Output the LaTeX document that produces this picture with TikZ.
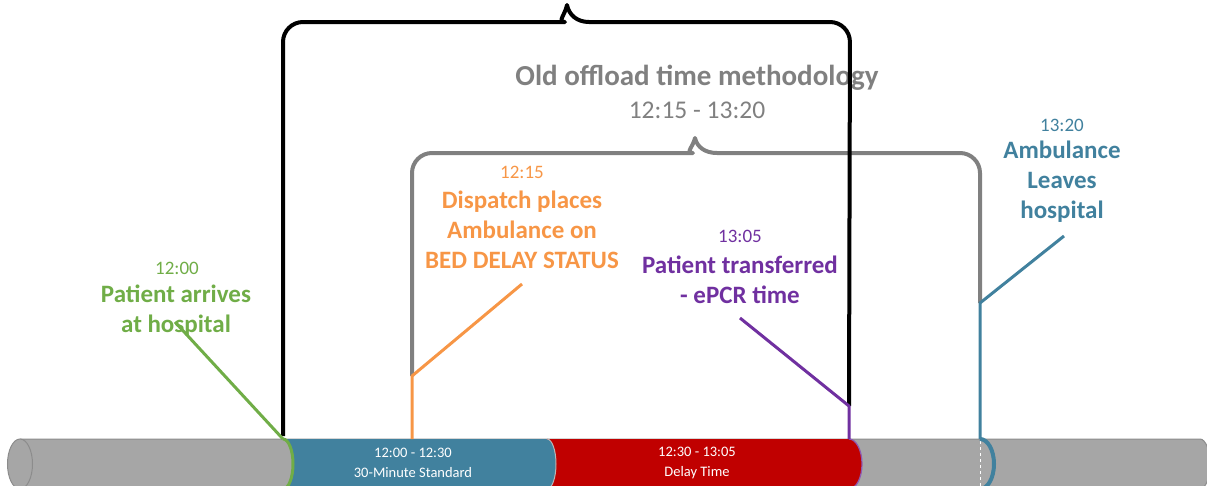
\documentclass[tikz,border=0pt]{standalone}
\usepackage{fontspec}
\setmainfont{Carlito}
\definecolor{cgreen}{HTML}{70AD47}
\definecolor{corange}{HTML}{F79646}
\definecolor{cpurple}{HTML}{7030A0}
\definecolor{cblue}{HTML}{41819E}
\definecolor{cred}{HTML}{C00000}
\definecolor{cbar}{HTML}{A6A6A6}
\definecolor{cbaredge}{HTML}{8C8C8C}
\definecolor{cgray}{HTML}{808080}
\tikzset{
  lbl/.style={align=center, inner sep=0pt, font=\fontsize{25}{30}\selectfont\bfseries},
  tm/.style={inner sep=0pt, font=\fontsize{19}{23}\selectfont},
  bartext/.style={align=center, inner sep=0pt, text=white, font=\fontsize{14.5}{20}\selectfont},
  conn/.style={line width=3pt},
  brace/.style={line width=4pt, line join=round}
}
\begin{document}
\begin{tikzpicture}[x=1pt,y=-1pt]
\useasboundingbox (0,0) rectangle (1207,485);
\clip (0,0) rectangle (1207,485);

% ---- bar ----
\fill[cbar] (20,439) rectangle (1200,489);
\fill[cbar] (1200,489) arc[start angle=-90,end angle=90,x radius=10pt,y radius=25pt] -- cycle;
\draw[cbaredge, line width=1pt] (20,439) -- (1200,439) arc[start angle=90,end angle=-90,x radius=10pt,y radius=25pt];
\filldraw[fill=cbar, draw=cbaredge, line width=1pt] (20,464) ellipse[x radius=12.5pt, y radius=25pt];

% blue segment
\fill[cblue] (283,439) -- (547,439) arc[start angle=90,end angle=-90,x radius=9pt,y radius=25pt]
  -- (283,489) arc[start angle=-90,end angle=90,x radius=10pt,y radius=25pt] -- cycle;
\draw[cred] (547,439) -- (849,439);
\fill[cred] (547,439) -- (849,439) arc[start angle=90,end angle=-90,x radius=13pt,y radius=25pt]
  -- (547,489) arc[start angle=-90,end angle=90,x radius=9pt,y radius=25pt] -- cycle;
\draw[cbar!80!white, line width=1pt] (547,439) arc[start angle=90,end angle=-90,x radius=9pt,y radius=25pt];
\draw[cpurple!80!white, line width=1.2pt] (849,439) arc[start angle=90,end angle=-90,x radius=13pt,y radius=25pt];
\draw[white, dashed, line width=1pt] (980,441) -- (980,489);

\node[bartext] (t1) at (413,463) {12:00 - 12:30\\30-Minute Standard};
\node[bartext] (t2) at (697,463) {12:30 - 13:05\\Delay Time};

% ---- labels ----
\node[tm, text=cgreen] (g0) at (177,268) {12:00};
\node[lbl, text=cgreen] (g1) at (176,311) {Patient arrives\\at hospital};
\node[tm, text=corange] (o0) at (522,172) {12:15};
\node[lbl, text=corange] (o1) at (522,230) {Dispatch places\\Ambulance on\\BED DELAY STATUS};
\node[tm, text=cpurple] (p0) at (740,236) {13:05};
\node[lbl, text=cpurple] (p1) at (740,280) {Patient transferred\\- ePCR time};
\node[tm, text=cblue] (b0) at (1062,125) {13:20};
\node[lbl, text=cblue] (b1) at (1062,182) {Ambulance\\Leaves\\hospital};
\node[inner sep=0pt, text=cgray, font=\fontsize{29}{34}\selectfont\bfseries] (h0) at (697,78) {Old offload time methodology};
\node[inner sep=0pt, text=cgray, font=\fontsize{25.5}{30}\selectfont] (h1) at (697,110) {12:15 - 13:20};

% ---- coordinates ----
\coordinate (gs) at (175,322);
\coordinate (gm) at (283,439);
\coordinate (os) at (522,284);
\coordinate (ok) at (412,376);
\coordinate (om) at (412,439);
\coordinate (ps) at (740,318);
\coordinate (pk) at (849,406);
\coordinate (pm) at (849,439);
\coordinate (bs) at (1064,236);
\coordinate (bk) at (980,303);
\coordinate (bm) at (980,439);

% ---- braces ----
\draw[brace, cgray] (ok) [rounded corners=20pt] -- (412,153) -- (673,153) [sharp corners]
  .. controls (685,153) and (693,147) .. (695,138)
  .. controls (697,147) and (705,153) .. (717,153)
  [rounded corners=20pt] -- (980,153) -- (bk);
\draw[brace, black] (283,436) [rounded corners=20pt] -- (283,22) -- (545,22) [sharp corners]
  .. controls (557,22) and (565,15) .. (567,5)
  .. controls (569,15) and (577,22) .. (589,22)
  [rounded corners=20pt] -- (850,22) -- (pk);

% ---- connectors ----
\draw[conn, cgreen] (gs) -- (gm);
\draw[conn, cgreen] (gm) arc[start angle=90,end angle=-90,x radius=10pt,y radius=25pt];
\draw[conn, corange, line join=round] (os) -- (ok) -- (om);
\draw[conn, cpurple, line join=round] (ps) -- (pk) -- (pm);
\draw[conn, cblue, line join=round] (bs) -- (bk) -- (bm);
\draw[line width=4pt, cblue] (bm) arc[start angle=90,end angle=-90,x radius=14pt,y radius=25pt];
\end{tikzpicture}
\end{document}
